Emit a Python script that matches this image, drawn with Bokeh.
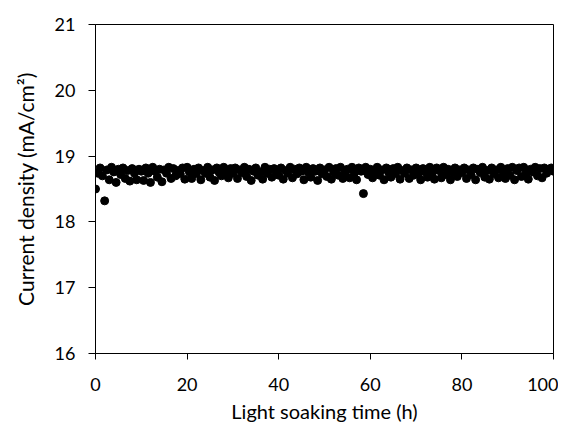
from bokeh.plotting import figure
from bokeh.models import Range1d, FixedTicker
from bokeh.embed import file_html
from bokeh.resources import INLINE

# Sampling times (h)
time_h = [
    0.0, 0.5, 1.0, 1.5, 2.0, 2.5, 3.0, 3.5, 4.0, 4.5, 5.0, 5.5, 6.0, 6.5, 7.0, 7.5, 8.0, 8.5, 9.0, 9.5,
    10.0, 10.5, 11.0, 11.5, 12.0, 12.5, 13.0, 13.5, 14.0, 14.5, 15.0, 15.5, 16.0, 16.5, 17.0, 17.5, 18.0, 18.5, 19.0, 19.5,
    20.0, 20.5, 21.0, 21.5, 22.0, 22.5, 23.0, 23.5, 24.0, 24.5, 25.0, 25.5, 26.0, 26.5, 27.0, 27.5, 28.0, 28.5, 29.0, 29.5,
    30.0, 30.5, 31.0, 31.5, 32.0, 32.5, 33.0, 33.5, 34.0, 34.5, 35.0, 35.5, 36.0, 36.5, 37.0, 37.5, 38.0, 38.5, 39.0, 39.5,
    40.0, 40.5, 41.0, 41.5, 42.0, 42.5, 43.0, 43.5, 44.0, 44.5, 45.0, 45.5, 46.0, 46.5, 47.0, 47.5, 48.0, 48.5, 49.0, 49.5,
    50.0, 50.5, 51.0, 51.5, 52.0, 52.5, 53.0, 53.5, 54.0, 54.5, 55.0, 55.5, 56.0, 56.5, 57.0, 57.5, 58.0, 58.5, 59.0, 59.5,
    60.0, 60.5, 61.0, 61.5, 62.0, 62.5, 63.0, 63.5, 64.0, 64.5, 65.0, 65.5, 66.0, 66.5, 67.0, 67.5, 68.0, 68.5, 69.0, 69.5,
    70.0, 70.5, 71.0, 71.5, 72.0, 72.5, 73.0, 73.5, 74.0, 74.5, 75.0, 75.5, 76.0, 76.5, 77.0, 77.5, 78.0, 78.5, 79.0, 79.5,
    80.0, 80.5, 81.0, 81.5, 82.0, 82.5, 83.0, 83.5, 84.0, 84.5, 85.0, 85.5, 86.0, 86.5, 87.0, 87.5, 88.0, 88.5, 89.0, 89.5,
    90.0, 90.5, 91.0, 91.5, 92.0, 92.5, 93.0, 93.5, 94.0, 94.5, 95.0, 95.5, 96.0, 96.5, 97.0, 97.5, 98.0, 98.5, 99.0, 99.5,
    100.0,
]

# Current density (mA/cm2)
current_density = [
    18.50, 18.74, 18.82, 18.70, 18.32, 18.79, 18.64, 18.83, 18.76, 18.60, 18.80, 18.72, 18.82, 18.66, 18.78, 18.62, 18.81, 18.74, 18.64, 18.80,
    18.77, 18.63, 18.82, 18.74, 18.60, 18.83, 18.77, 18.68, 18.80, 18.61, 18.79, 18.74, 18.83, 18.66, 18.81, 18.70, 18.78, 18.73, 18.82, 18.65,
    18.83, 18.76, 18.66, 18.80, 18.73, 18.82, 18.64, 18.78, 18.74, 18.83, 18.68, 18.79, 18.63, 18.82, 18.75, 18.70, 18.83, 18.77, 18.67, 18.81,
    18.74, 18.82, 18.66, 18.79, 18.75, 18.83, 18.69, 18.80, 18.63, 18.77, 18.82, 18.71, 18.76, 18.65, 18.83, 18.74, 18.80, 18.68, 18.81, 18.76,
    18.71, 18.82, 18.65, 18.78, 18.74, 18.83, 18.67, 18.80, 18.73, 18.82, 18.77, 18.64, 18.83, 18.75, 18.68, 18.81, 18.77, 18.63, 18.82, 18.73,
    18.79, 18.69, 18.83, 18.65, 18.76, 18.81, 18.71, 18.83, 18.66, 18.75, 18.80, 18.67, 18.83, 18.74, 18.64, 18.82, 18.77, 18.43, 18.83, 18.72,
    18.80, 18.67, 18.75, 18.83, 18.71, 18.79, 18.64, 18.82, 18.75, 18.68, 18.81, 18.73, 18.83, 18.65, 18.78, 18.74, 18.82, 18.66, 18.79, 18.71,
    18.82, 18.73, 18.64, 18.81, 18.76, 18.68, 18.83, 18.74, 18.65, 18.82, 18.78, 18.67, 18.83, 18.72, 18.80, 18.64, 18.75, 18.82, 18.69, 18.79,
    18.75, 18.82, 18.66, 18.79, 18.72, 18.82, 18.64, 18.80, 18.75, 18.83, 18.68, 18.78, 18.65, 18.82, 18.73, 18.79, 18.67, 18.83, 18.76, 18.66,
    18.81, 18.71, 18.83, 18.64, 18.78, 18.82, 18.69, 18.83, 18.74, 18.65, 18.80, 18.76, 18.83, 18.70, 18.81, 18.67, 18.82, 18.74, 18.79, 18.82,
    18.77,
]

x_ticks = [0, 20, 40, 60, 80, 100]
y_ticks = [16, 17, 18, 19, 20, 21]

FONT = "Lato"

p = figure(
    width=558, height=430,
    output_backend="svg", toolbar_location=None,
    x_range=Range1d(0, 100), y_range=Range1d(16, 21),
    min_border_left=95, min_border_right=5, min_border_top=24, min_border_bottom=77,
)
p.background_fill_color = "white"
p.border_fill_color = "white"
p.outline_line_color = "black"
p.outline_line_width = 1
p.grid.visible = False

p.scatter(time_h, current_density, size=8, color="black", marker="circle")

p.xaxis.ticker = FixedTicker(ticks=x_ticks)
p.yaxis.ticker = FixedTicker(ticks=y_ticks)
p.xaxis.axis_label = "Light soaking time (h)"
p.yaxis.axis_label = "Current density (mA/cm²)"

for ax in (p.xaxis, p.yaxis):
    ax.axis_line_color = "black"
    ax.major_tick_line_color = "black"
    ax.minor_tick_line_color = None
    ax.major_tick_in = 0
    ax.major_label_text_font = FONT
    ax.major_label_text_font_size = "18px"
    ax.major_label_text_color = "black"
    ax.axis_label_text_font = FONT
    ax.axis_label_text_font_size = "20px"
    ax.axis_label_text_font_style = "normal"
    ax.axis_label_text_color = "black"

p.yaxis.axis_label_text_font_size = "21px"

p.xaxis.major_tick_out = 6
p.xaxis.major_label_standoff = 18
p.xaxis.axis_label_standoff = 5
p.yaxis.major_tick_out = 7
p.yaxis.major_label_standoff = 13
p.yaxis.axis_label_standoff = 14

open("out.html", "w").write(file_html(p, INLINE))
